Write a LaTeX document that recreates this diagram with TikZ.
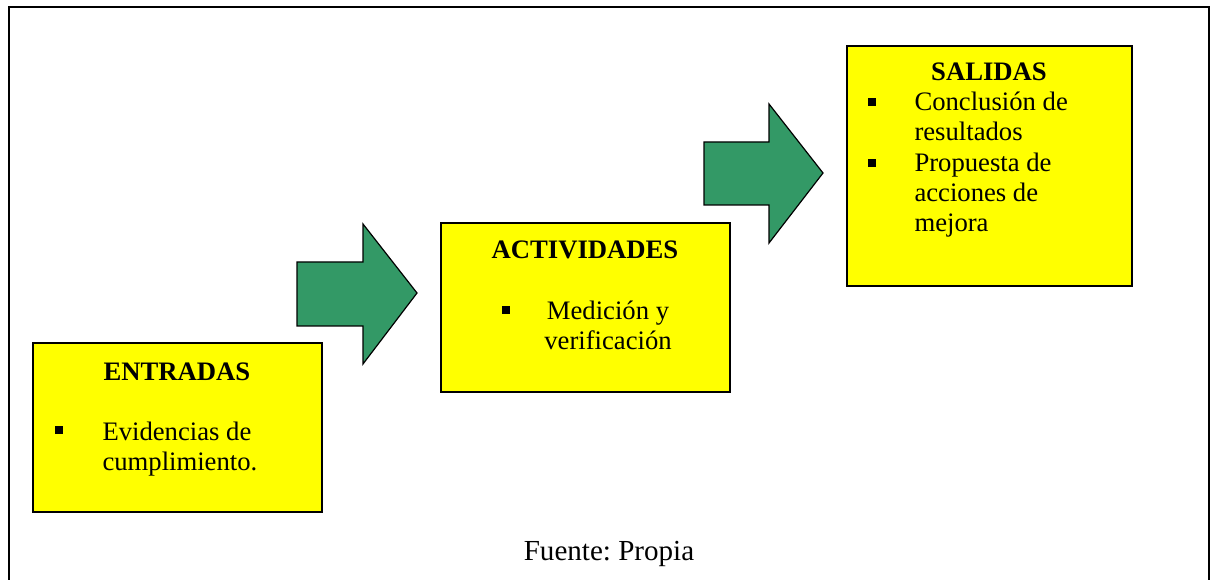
\documentclass[tikz,border=0pt]{standalone}
\usepackage{fontspec}
\setmainfont{Liberation Serif}
\definecolor{boxyellow}{RGB}{255,255,0}
\definecolor{arrowgreen}{RGB}{51,153,102}
\tikzset{every picture/.style={line width=0.75pt}}

\begin{document}
\begin{tikzpicture}[x=0.75pt,y=0.75pt,yscale=-1,xscale=1,
  box/.style={draw=black, line width=1.1pt, fill=boxyellow},
  blockarrow/.style={draw=black, line width=0.9pt, fill=arrowgreen},
  bul/.style={fill=black, inner sep=0pt, minimum size=5.5pt},
  txt/.style={font=\fontsize{20}{22.5}\selectfont, inner sep=0pt},
  ttl/.style={font=\fontsize{20}{22.5}\selectfont\bfseries, inner sep=0pt}]
\useasboundingbox (0,0) rectangle (1212,580);

%Frame (open at the bottom)
\draw [line width=1pt]  (9,590) -- (9,7) -- (1209,7) -- (1209,590) ;

%Shape: Rectangle ENTRADAS
\draw [box] (33,343) rectangle (322,512) ;
%Shape: Rectangle ACTIVIDADES
\draw [box] (441,223) rectangle (730,392) ;
%Shape: Rectangle SALIDAS
\draw [box] (847,46) rectangle (1132,286) ;

%Shape: Right Arrow
\draw [blockarrow] (297,262) -- (363,262) -- (363,224) -- (417,293) -- (363,364) -- (363,326) -- (297,326) -- cycle ;
%Shape: Right Arrow
\draw [blockarrow] (704,142) -- (769,142) -- (769,104) -- (823,173) -- (769,243) -- (769,205) -- (704,205) -- cycle ;

% Text Node
\draw (177,380) node (entT) [ttl, anchor=base] {ENTRADAS};
\draw (59,430) node (entB) [bul] {};
\draw (102,470) node (entI) [txt, anchor=base west, align=left] {Evidencias de\\cumplimiento.};

% Text Node
\draw (585,259) node (actT) [ttl, anchor=base] {ACTIVIDADES};
\draw (506,310) node (actB) [bul] {};
\draw (608,350) node (actI) [txt, anchor=base, align=center] {Medición y\\verificación};

% Text Node
\draw (989,81) node (salT) [ttl, anchor=base] {SALIDAS};
\draw (872,102) node (salB1) [bul] {};
\draw (914,141) node (salI1) [txt, anchor=base west, align=left] {Conclusión de\\resultados};
\draw (872,163) node (salB2) [bul] {};
\draw (914,232) node (salI2) [txt, anchor=base west, align=left] {Propuesta de\\acciones de\\mejora};

% Text Node
\draw (609,560) node (src) [txt, font=\fontsize{21.8}{24}\selectfont\frenchspacing, anchor=base] {Fuente: Propia};

\end{tikzpicture}
\end{document}
